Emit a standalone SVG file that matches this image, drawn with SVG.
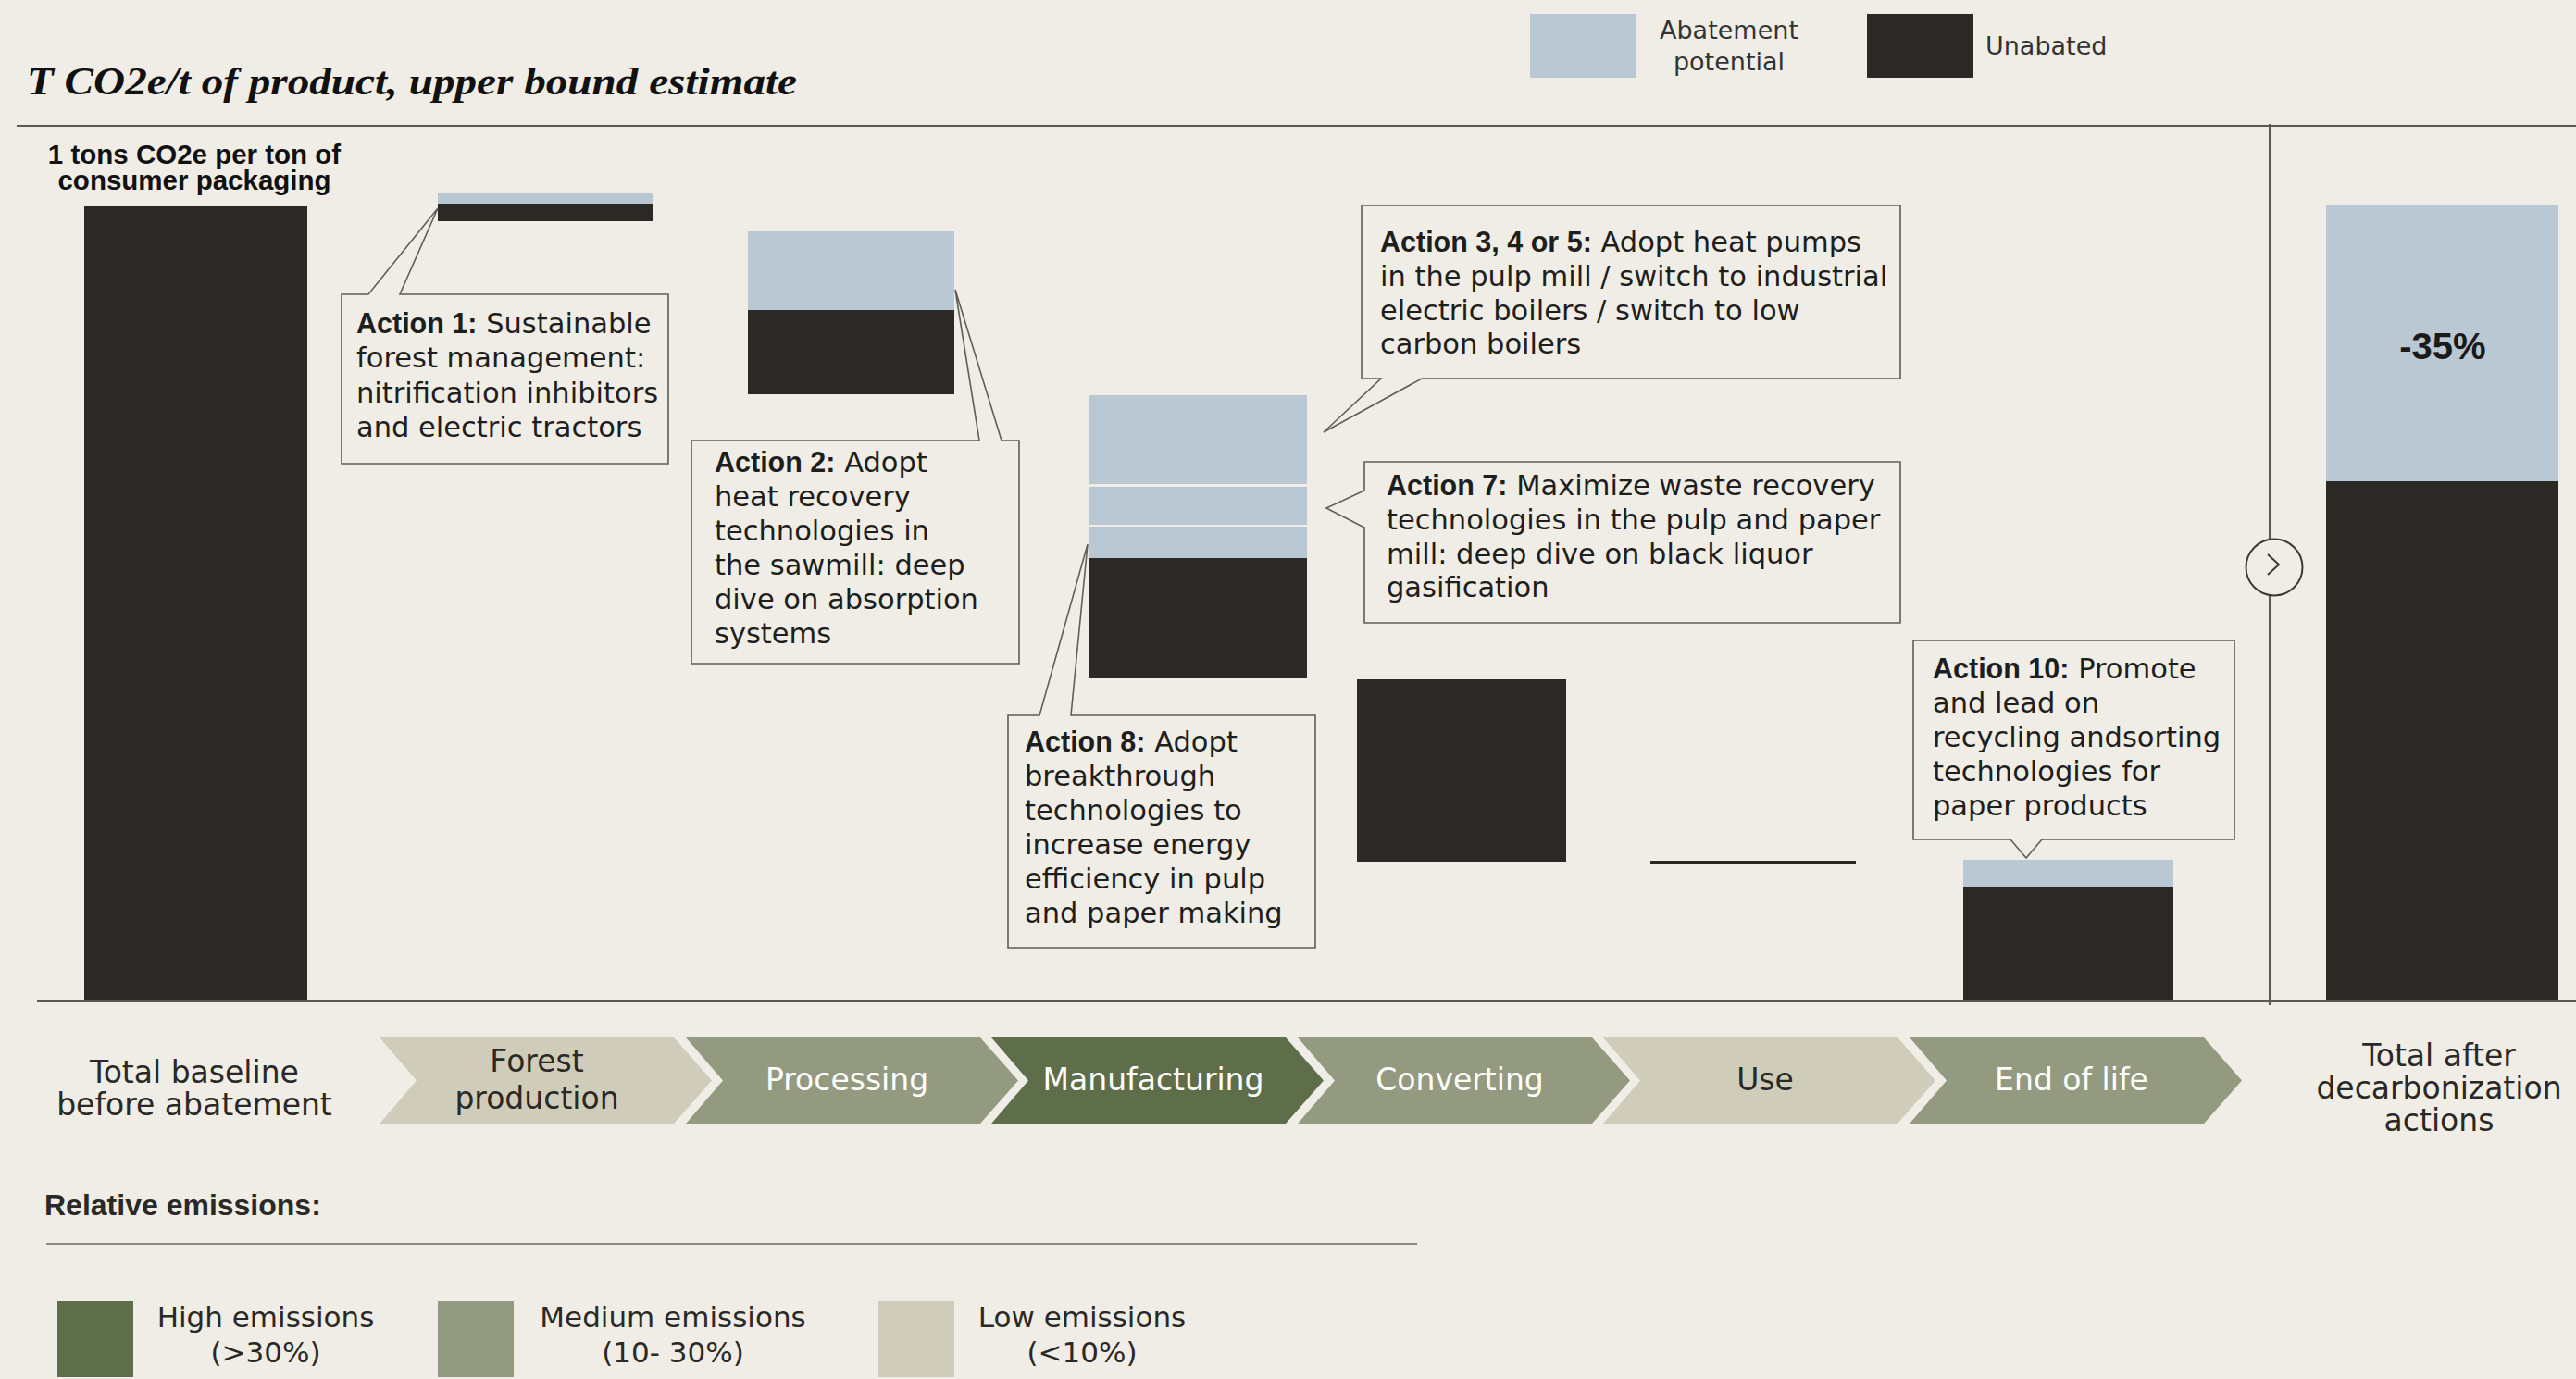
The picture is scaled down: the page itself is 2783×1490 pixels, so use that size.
<svg xmlns="http://www.w3.org/2000/svg" width="2783" height="1490" viewBox="0 0 2783 1490">
  <defs>
    <style>
      .bg { fill: #efede6; }
      .dark { fill: #2a2925; }
      .abate { fill: #b9c8d3; }
      .low { fill: #cfcdb9; }
      .med { fill: #939a80; }
      .high { fill: #5f6e4a; }
      .rule { stroke: #5a5a55; stroke-width: 2; fill: none; }
      .callout { fill: #efede6; stroke: #5e5e5a; stroke-width: 1.6; }
      .txt { font-family: "DejaVu Sans", "Noto Sans", sans-serif; font-size: 30.5px; fill: #1e1e1c; }
      .b { font-family: "Liberation Sans", Arial, sans-serif; font-weight: 700; }
      .stage { font-family: "DejaVu Sans", "Noto Sans", sans-serif; font-size: 33px; text-anchor: middle; }
      .onlight { fill: #2a2925; }
      .ondark { fill: #ffffff; }
      .cap { font-family: "DejaVu Sans", "Noto Sans", sans-serif; font-size: 33px; fill: #2a2925; text-anchor: middle; }
      .leg { font-family: "DejaVu Sans", "Noto Sans", sans-serif; font-size: 31px; fill: #2a2925; text-anchor: middle; }
    </style>
  </defs>

  <!-- page background -->
  <rect class="bg" x="0" y="0" width="2783" height="1490"/>

  <!-- heading -->
  <g id="title">
    <text x="29" y="102" font-family="'Liberation Serif', 'Times New Roman', serif" font-weight="700" font-style="italic" font-size="43" fill="#111" textLength="832" lengthAdjust="spacingAndGlyphs">T CO2e/t of product, upper bound estimate</text>
  </g>

  <!-- bar colour key -->
  <g id="key-bars">
    <rect class="abate" x="1653" y="15" width="115" height="69"/>
    <text x="1868" y="42" font-family="'DejaVu Sans', sans-serif" font-size="27" fill="#333" text-anchor="middle">Abatement</text>
    <text x="1868" y="76" font-family="'DejaVu Sans', sans-serif" font-size="27" fill="#333" text-anchor="middle">potential</text>
    <rect class="dark" x="2017" y="15" width="115" height="69"/>
    <text x="2145" y="59" font-family="'DejaVu Sans', sans-serif" font-size="27" fill="#333">Unabated</text>
  </g>

  <!-- chart frame: top rule, axis and divider -->
  <g id="frame">
    <line class="rule" x1="18" y1="136" x2="2783" y2="136"/>
    <line class="rule" x1="2452" y1="134" x2="2452" y2="1086"/>
    <line class="rule" x1="40" y1="1082" x2="2783" y2="1082" stroke-width="2.5"/>
  </g>

  <!-- waterfall bars -->
  <g id="bar-baseline">
    <rect class="dark" x="91" y="223" width="241" height="858"/>
    <text x="210" y="177" font-family="'Liberation Sans', Arial, sans-serif" font-weight="700" font-size="29.5" fill="#111" text-anchor="middle">1 tons CO2e per ton of</text>
    <text x="210" y="205" font-family="'Liberation Sans', Arial, sans-serif" font-weight="700" font-size="29.5" fill="#111" text-anchor="middle">consumer packaging</text>
  </g>
  <g id="bar-forest">
    <rect class="abate" x="473" y="209" width="232" height="11"/>
    <rect class="dark" x="473" y="220" width="232" height="19"/>
  </g>
  <g id="bar-processing">
    <rect class="abate" x="808" y="250" width="223" height="85"/>
    <rect class="dark" x="808" y="335" width="223" height="91"/>
  </g>
  <g id="bar-manufacturing">
    <rect class="abate" x="1177" y="427" width="235" height="96"/>
    <rect class="abate" x="1177" y="526" width="235" height="41"/>
    <rect class="abate" x="1177" y="569" width="235" height="34"/>
    <rect class="dark" x="1177" y="603" width="235" height="130"/>
  </g>
  <g id="bar-converting">
    <rect class="dark" x="1466" y="734" width="226" height="197"/>
  </g>
  <g id="bar-use">
    <rect class="dark" x="1783" y="930" width="222" height="4"/>
  </g>
  <g id="bar-endoflife">
    <rect class="abate" x="2121" y="929" width="227" height="29"/>
    <rect class="dark" x="2121" y="958" width="227" height="123"/>
  </g>
  <g id="bar-total">
    <rect class="abate" x="2513" y="221" width="251" height="299"/>
    <rect class="dark" x="2513" y="520" width="251" height="561"/>
    <text x="2639" y="388" font-family="'Liberation Sans', Arial, sans-serif" font-weight="700" font-size="40" fill="#1a1a1a" text-anchor="middle">-35%</text>
  </g>

  <!-- divider marker -->
  <g id="divider-arrow">
    <circle cx="2457" cy="613" r="30.5" fill="#efede6" stroke="#3a3a38" stroke-width="2"/>
    <polyline points="2450,599 2462,610 2450,621" fill="none" stroke="#3a3a38" stroke-width="2"/>
  </g>

  <!-- callout outlines with their pointers -->
  <g id="connectors">
    <path class="callout" d="M369,318 L398,318 L473,225 L432,318 L722,318 L722,501 L369,501 Z"/>
    <path class="callout" d="M747,476 L1058,476 L1032,313 L1082,476 L1101,476 L1101,717 L747,717 Z"/>
    <path class="callout" d="M1471,222 L2053,222 L2053,409 L1536,409 L1430,467 L1492,409 L1471,409 Z"/>
    <path class="callout" d="M1474,499 L2053,499 L2053,673 L1474,673 L1474,570 L1433,549 L1474,530 Z"/>
    <path class="callout" d="M1089,773 L1123,773 L1175,588 L1157,773 L1421,773 L1421,1024 L1089,1024 Z"/>
    <path class="callout" d="M2067,692 L2414,692 L2414,907 L2206,907 L2189,927 L2172,907 L2067,907 Z"/>
  </g>

  <!-- callout texts -->
  <g id="action-1" class="txt">
    <text x="385" y="360"><tspan class="b">Action 1:</tspan> Sustainable</text>
    <text x="385" y="397">forest management:</text>
    <text x="385" y="435">nitrification inhibitors</text>
    <text x="385" y="472">and electric tractors</text>
  </g>
  <g id="action-2" class="txt">
    <text x="772" y="510"><tspan class="b">Action 2:</tspan> Adopt</text>
    <text x="772" y="547">heat recovery</text>
    <text x="772" y="584">technologies in</text>
    <text x="772" y="621">the sawmill: deep</text>
    <text x="772" y="658">dive on absorption</text>
    <text x="772" y="695">systems</text>
  </g>
  <g id="action-3-4-5" class="txt">
    <text x="1491" y="272"><tspan class="b">Action 3, 4 or 5:</tspan> Adopt heat pumps</text>
    <text x="1491" y="309">in the pulp mill / switch to industrial</text>
    <text x="1491" y="346">electric boilers / switch to low</text>
    <text x="1491" y="382">carbon boilers</text>
  </g>
  <g id="action-7" class="txt">
    <text x="1498" y="535"><tspan class="b">Action 7:</tspan> Maximize waste recovery</text>
    <text x="1498" y="572">technologies in the pulp and paper</text>
    <text x="1498" y="609">mill: deep dive on black liquor</text>
    <text x="1498" y="645">gasification</text>
  </g>
  <g id="action-8" class="txt">
    <text x="1107" y="812"><tspan class="b">Action 8:</tspan> Adopt</text>
    <text x="1107" y="849">breakthrough</text>
    <text x="1107" y="886">technologies to</text>
    <text x="1107" y="923">increase energy</text>
    <text x="1107" y="960">efficiency in pulp</text>
    <text x="1107" y="997">and paper making</text>
  </g>
  <g id="action-10" class="txt">
    <text x="2088" y="733"><tspan class="b">Action 10:</tspan> Promote</text>
    <text x="2088" y="770">and lead on</text>
    <text x="2088" y="807">recycling andsorting</text>
    <text x="2088" y="844">technologies for</text>
    <text x="2088" y="881">paper products</text>
  </g>

  <!-- value chain stages -->
  <g id="label-baseline">
    <text class="cap" x="210" y="1170">Total baseline</text>
    <text class="cap" x="210" y="1205">before abatement</text>
  </g>
  <g id="stage-forest">
    <path class="low" d="M410,1121 L728,1121 L769,1167.5 L728,1214 L410,1214 L450,1167.5 Z"/>
    <text class="stage onlight" x="580" y="1158">Forest</text>
    <text class="stage onlight" x="580" y="1198">production</text>
  </g>
  <g id="stage-processing">
    <path class="med" d="M741,1121 L1059,1121 L1100,1167.5 L1059,1214 L741,1214 L781,1167.5 Z"/>
    <text class="stage ondark" x="915" y="1178">Processing</text>
  </g>
  <g id="stage-manufacturing">
    <path class="high" d="M1071,1121 L1389,1121 L1430,1167.5 L1389,1214 L1071,1214 L1111,1167.5 Z"/>
    <text class="stage ondark" x="1246" y="1178">Manufacturing</text>
  </g>
  <g id="stage-converting">
    <path class="med" d="M1402,1121 L1720,1121 L1761,1167.5 L1720,1214 L1402,1214 L1442,1167.5 Z"/>
    <text class="stage ondark" x="1577" y="1178">Converting</text>
  </g>
  <g id="stage-use">
    <path class="low" d="M1732,1121 L2050,1121 L2091,1167.5 L2050,1214 L1732,1214 L1772,1167.5 Z"/>
    <text class="stage onlight" x="1907" y="1178">Use</text>
  </g>
  <g id="stage-endoflife">
    <path class="med" d="M2063,1121 L2381,1121 L2422,1167.5 L2381,1214 L2063,1214 L2103,1167.5 Z"/>
    <text class="stage ondark" x="2238" y="1178">End of life</text>
  </g>
  <g id="label-total">
    <text class="cap" x="2635" y="1152">Total after</text>
    <text class="cap" x="2635" y="1187">decarbonization</text>
    <text class="cap" x="2635" y="1222">actions</text>
  </g>

  <!-- emission intensity key -->
  <g id="key-emissions">
    <text x="48" y="1313" font-family="'Liberation Sans', Arial, sans-serif" font-weight="700" font-size="32" fill="#2a2925">Relative emissions:</text>
    <line x1="50" y1="1344" x2="1531" y2="1344" stroke="#8a8a84" stroke-width="2"/>
    <rect class="high" x="62" y="1406" width="82" height="82"/>
    <text class="leg" x="287" y="1434">High emissions</text>
    <text class="leg" x="287" y="1472">(&gt;30%)</text>
    <rect class="med" x="473" y="1406" width="82" height="82"/>
    <text class="leg" x="727" y="1434">Medium emissions</text>
    <text class="leg" x="727" y="1472">(10- 30%)</text>
    <rect class="low" x="949" y="1406" width="82" height="82"/>
    <text class="leg" x="1169" y="1434">Low emissions</text>
    <text class="leg" x="1169" y="1472">(&lt;10%)</text>
  </g>
</svg>
